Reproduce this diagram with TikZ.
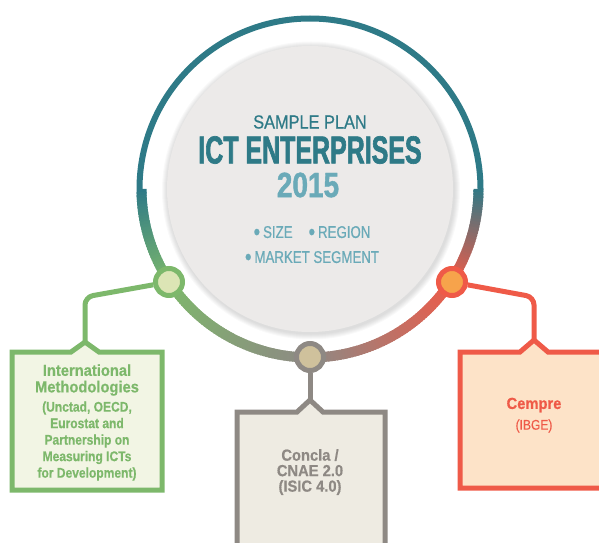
\documentclass[tikz,border=0pt]{standalone}
\usepackage{fontspec}
\setmainfont{Liberation Sans}
\newfontfamily\fsample[FakeStretch=0.86,FakeBold=0.6]{Liberation Sans}
\newfontfamily\ftitle[FakeStretch=0.64,FakeBold=1.6]{Liberation Sans}
\newfontfamily\fyear[FakeStretch=0.8,FakeBold=1.2]{Liberation Sans}
\newfontfamily\fbul[FakeStretch=0.78,FakeBold=0.6]{Liberation Sans}
\newfontfamily\fboxtxt[FakeStretch=0.92,FakeBold=0.5]{Liberation Sans}
\newfontfamily\fsub[FakeStretch=0.86,FakeBold=0.4]{Liberation Sans}
\definecolor{cteal}{HTML}{2E7A87}
\definecolor{clight}{HTML}{6AAAB8}
\definecolor{cgreen}{HTML}{7DB86B}
\definecolor{cgrey}{HTML}{8E8984}
\definecolor{cred}{HTML}{EF5A48}
\definecolor{gfill}{HTML}{DCE5B5}
\definecolor{ofill}{HTML}{F7A34B}
\definecolor{tfill}{HTML}{CFC19C}
\definecolor{gbox}{HTML}{F2F5E4}
\definecolor{tbox}{HTML}{EEEBE2}
\definecolor{obox}{HTML}{FDE3C8}
\definecolor{inner}{HTML}{ECEAE9}
\newcommand{\bul}{\raisebox{-2pt}{\scalebox{1.4}{\textbullet}}\hspace{3pt}}
\begin{document}
\begin{tikzpicture}[x=1pt,y=1pt,
  dot/.style={circle, line width=5pt, minimum size=27pt, inner sep=0pt},
  link/.style={line width=5pt, rounded corners=8pt},
  boxline/.style={line width=5pt, line join=miter},
  txt/.style={inner sep=0pt}]
\useasboundingbox (0,0) rectangle (599,542);
\clip (0,0) rectangle (599,542);
\coordinate (ctr) at (310,353);
% shadow + inner disc
\foreach \k in {1,...,6} {
  \fill[black, opacity=0.025] ([shift={(1,-1.5)}]ctr) circle[radius=143+\k];
}
\fill[inner] (ctr) circle[radius=143];
% upper arc
\draw[cteal, line width=6pt] ([shift={(0:170.5)}]ctr) arc[start angle=0, end angle=180, radius=170.5];
% lower gradient arc
\foreach \a in {180,...,359} {
  \pgfmathsetmacro{\b}{min(\a+1.6,360)}
  \ifnum\a<213
    \pgfmathtruncatemacro{\p}{100*(213-\a)/33}\colorlet{segc}{cteal!\p!cgreen}
  \else\ifnum\a<270
    \pgfmathtruncatemacro{\p}{100*(270-\a)/57}\colorlet{segc}{cgreen!\p!cgrey}
  \else\ifnum\a<327
    \pgfmathtruncatemacro{\p}{100*(327-\a)/57}\colorlet{segc}{cgrey!\p!cred}
  \else
    \pgfmathtruncatemacro{\p}{100*(360-\a)/33}\colorlet{segc}{cred!\p!cteal}
  \fi\fi\fi
  \draw[segc, line width=10pt] ([shift={(\a:168.5)}]ctr) arc[start angle=\a, end angle=\b, radius=168.5];
}
% center texts
\node[txt, text=cteal, font=\fsample\fontsize{19}{19}\selectfont] (sample) at (310,420) {SAMPLE PLAN};
\node[txt, text=cteal, font=\ftitle\bfseries\fontsize{39}{39}\selectfont] (title) at (310,392) {ICT ENTERPRISES};
\node[txt, text=clight, font=\fyear\bfseries\fontsize{35}{35}\selectfont] (year) at (308,357) {2015};
\node[txt, text=clight, font=\fbul\fontsize{17}{17}\selectfont] (row1) at (312,309) {\bul SIZE\hspace{16pt}\bul REGION};
\node[txt, text=clight, font=\fbul\fontsize{17}{17}\selectfont] (row2) at (312,284) {\bul MARKET SEGMENT};
% coordinates
\coordinate (gcorner) at (85,245);
\coordinate (gapex) at (85,200);
\coordinate (tapex) at (310,142);
\coordinate (ocorner) at (534,245);
\coordinate (oapex) at (534,202);
% nodes on ring
\node[dot, draw=cgreen, fill=gfill] (gnode) at (169,260) {};
\node[dot, draw=cgrey, fill=tfill] (tnode) at (310,185) {};
\node[dot, draw=cred, fill=ofill] (onode) at (452,260) {};
% connectors
\draw[link, cgreen] (gnode) -- (gcorner) -- (gapex);
\draw[link, cgrey] (tnode) -- (tapex);
\draw[link, cred] (onode) -- (ocorner) -- (oapex);
% boxes
\draw[boxline, draw=cgreen, fill=gbox] (12,52) -- (12,190) -- (71,190) -- (gapex) -- (99,190) -- (162,190) -- (162,52) -- cycle;
\draw[boxline, draw=cgrey, fill=tbox] (237,-20) -- (237,130) -- (297,130) -- (tapex) -- (323,130) -- (385,130) -- (385,-20) -- cycle;
\draw[boxline, draw=cred, fill=obox] (460,54) -- (460,190) -- (520,190) -- (oapex) -- (548,190) -- (620,190) -- (620,54) -- cycle;
% box texts
\node[text=cgreen, align=center, font=\fboxtxt\bfseries\fontsize{16}{16.5}\selectfont] (gtitle) at (87,162) {International\\Methodologies};
\node[text=cgreen, align=center, font=\fsub\bfseries\fontsize{14}{16.5}\selectfont] (gsub) at (87,101) {(Unctad, OECD,\\Eurostat and\\Partnership on\\Measuring ICTs\\for Development)};
\node[text=cgrey, align=center, font=\fboxtxt\bfseries\fontsize{16}{15.5}\selectfont] (ttext) at (310,70) {Concla /\\CNAE 2.0\\(ISIC 4.0)};
\node[text=cred, font=\fboxtxt\bfseries\fontsize{16}{15}\selectfont] (otitle) at (534,137) {Cempre};
\node[text=cred, font=\fsub\fontsize{14}{13}\selectfont] (osub) at (534,116) {(IBGE)};
\end{tikzpicture}
\end{document}
